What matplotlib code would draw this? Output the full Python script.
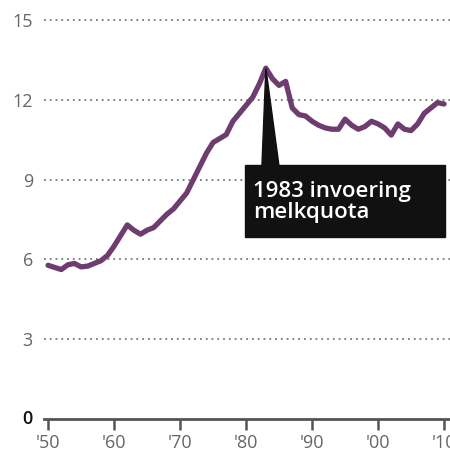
import numpy as np
import matplotlib.pyplot as plt
from matplotlib.patches import Polygon, Rectangle

## Data
years = np.arange(1950, 2011)
values = [5.78, 5.70, 5.62, 5.80, 5.85, 5.72, 5.75, 5.85, 5.95, 6.15,
          6.50, 6.90, 7.30, 7.10, 6.95, 7.10, 7.20, 7.45, 7.70, 7.90,
          8.20, 8.50, 9.00, 9.50, 10.00, 10.40, 10.55, 10.70, 11.20, 11.50,
          11.80, 12.10, 12.60, 13.20, 12.80, 12.55, 12.70, 11.70, 11.45, 11.40,
          11.20, 11.05, 10.95, 10.90, 10.90, 11.28, 11.05, 10.90, 11.00, 11.20,
          11.10, 10.95, 10.68, 11.10, 10.90, 10.85, 11.10, 11.50, 11.70, 11.90,
          11.85]
xticks = [1950, 1960, 1970, 1980, 1990, 2000, 2010]
xticklabels = ["'50", "'60", "'70", "'80", "'90", "'00", "'10"]
yticks = [0, 3, 6, 9, 12, 15]
note = "1983 invoering\nmelkquota"
note_year, note_value = 1983, 13.2

purple = '#6e3d70'
grey = '#555555'

fig = plt.figure(figsize=(4.5, 4.67), dpi=100)
ax = fig.add_axes([0.098, 0.103, 0.902, 0.882])

# dotted grid lines
for v in yticks[1:]:
    ax.axhline(v, color='#777777', lw=1.3, ls=(0, (1, 2.2)), zorder=1)

ax.plot(years, values, color=purple, lw=3.8, solid_capstyle='round',
        solid_joinstyle='round', zorder=3)

# annotation: pointer + black box
tri = Polygon([[note_year, note_value], [1982.4, 9.5], [1985.0, 9.5]],
              closed=True, color='#111111', zorder=4)
ax.add_patch(tri)
box = Rectangle((1979.8, 6.84), 30.4, 2.72, color='#111111', zorder=4)
ax.add_patch(box)
ax.text(1981.0, 8.15, note, color='white', fontsize=16, family='Open Sans',
        fontweight='semibold', va='center', ha='left', linespacing=1.0,
        zorder=5)

ax.set_xlim(1949.4, 2010.9)
ax.set_ylim(0, 15.5)

for s in ['top', 'right', 'left']:
    ax.spines[s].set_visible(False)
ax.spines['bottom'].set_color(grey)
ax.spines['bottom'].set_linewidth(2)

ax.set_xticks(xticks)
ax.set_xticklabels(xticklabels, fontsize=13, color='#666666', family='Open Sans')
ax.tick_params(axis='x', length=8, width=1.8, color=grey, pad=3)

ax.set_yticks(yticks)
ax.set_yticklabels([str(v) for v in yticks], fontsize=13, color='#666666',
                   family='Open Sans')
ax.tick_params(axis='y', length=0, pad=8)
lab0 = ax.get_yticklabels()[0]
lab0.set_color('#111111')
lab0.set_fontweight('semibold')
lab0.set_va('center')

plt.savefig('out.png', dpi=100, facecolor='white')
